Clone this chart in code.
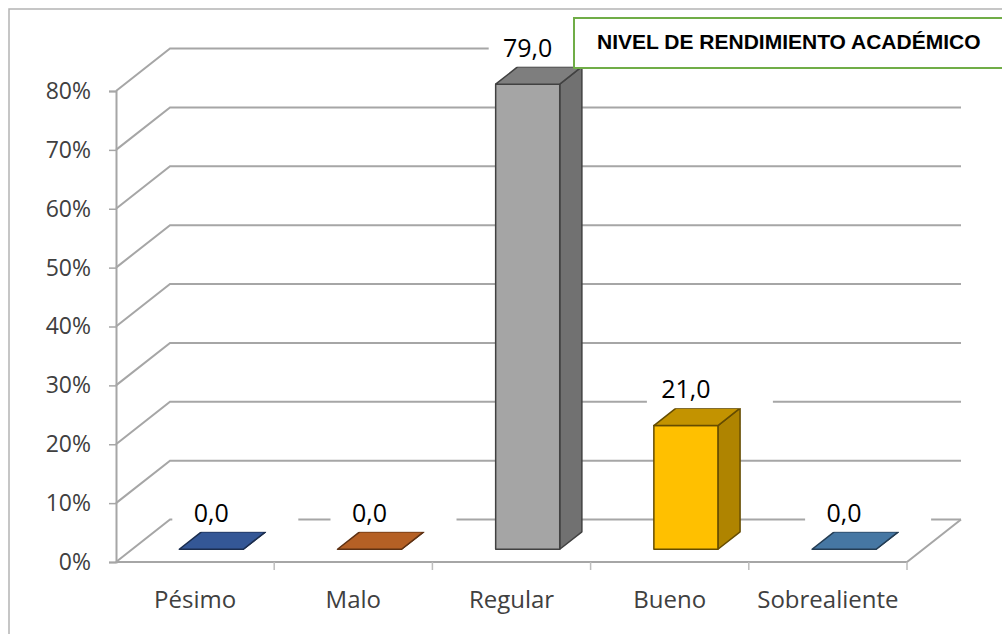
<!DOCTYPE html>
<html>
<head>
<meta charset="utf-8">
<script src="https://cdn.jsdelivr.net/npm/d3@7"></script>
<style>
  body { margin: 0; background: #fff; }
  .axis text { font-family: "Open Sans", sans-serif; fill: #404040; }
</style>
</head>
<body>
<div class="canvas"></div>
<script>
const width = 1002;
const height = 634;

// Data
const categories = ["Pésimo", "Malo", "Regular", "Bueno", "Sobrealiente"];
const values = [0, 0, 0.79, 0.21, 0];
const colors = ["#4472C4", "#ED7D31", "#A5A5A5", "#FFC000", "#5B9BD5"];
const yTicks = [0, 0.1, 0.2, 0.3, 0.4, 0.5, 0.6, 0.7, 0.8];
const title = "NIVEL DE RENDIMIENTO ACADÉMICO";

// 3D geometry: floor depth vector, bars sit between depth d0 and d1
const left = 116;
const right = 907;
const base = 562;
const DX = 54;
const DY = -42.5;
const d0 = 0.3;
const d1 = 0.71;

const locale = d3.formatLocale({ decimal: ",", thousands: ".", grouping: [3], currency: ["", ""] });
const fmtLabel = v => locale.format(".1f")(v * 100);

// Scales
const xScale = d3
  .scaleBand()
  .domain(categories)
  .range([left, right])
  .paddingInner(0.595)
  .paddingOuter(0.2975);

const yScale = d3
  .scaleLinear()
  .domain([0, 0.8])
  .range([base, 91]);

const svg = d3
  .select(".canvas")
  .append("svg")
  .attr("width", width)
  .attr("height", height);

// Outer chart border (left & top visible)
svg.append("path")
  .attr("d", `M9,${height + 5} L9,9 L${width + 5},9`)
  .attr("fill", "none")
  .attr("stroke", "#b4b4b4")
  .attr("stroke-width", 1.5);

// Gridlines: front edge -> back wall
const grid = svg.append("g").attr("class", "grid");
grid.selectAll("path")
  .data(yTicks)
  .enter()
  .append("path")
  .attr("d", d => {
    const y = yScale(d);
    return `M${left},${y} L${left + DX},${y + DY} L${right + DX},${y + DY}`;
  })
  .attr("fill", "none")
  .attr("stroke", "#a6a6a6")
  .attr("stroke-width", 2);

// Floor front & right edge
svg.append("path")
  .attr("d", `M${left},${base} L${right},${base} L${right + DX},${base + DY}`)
  .attr("fill", "none")
  .attr("stroke", "#a6a6a6")
  .attr("stroke-width", 2);

// Category boundary ticks
svg.append("g")
  .selectAll("line")
  .data(d3.range(1, categories.length + 1))
  .enter()
  .append("line")
  .attr("x1", i => left + xScale.step() * i)
  .attr("x2", i => left + xScale.step() * i)
  .attr("y1", base)
  .attr("y2", base + 8)
  .attr("stroke", "#bdbdbd")
  .attr("stroke-width", 1.5);

// Y axis
const yAxis = d3
  .axisLeft(yScale)
  .tickValues(yTicks)
  .tickFormat(d3.format(".0%"))
  .tickSize(7)
  .tickPadding(18);

const gy = svg.append("g")
  .attr("class", "axis")
  .attr("transform", `translate(${left},0)`)
  .call(yAxis);
gy.select(".domain").attr("stroke", "#a6a6a6").attr("stroke-width", 2);
gy.selectAll(".tick line").attr("stroke", "#a6a6a6").attr("stroke-width", 1.5);
gy.selectAll(".tick text").attr("font-size", 23);

// X axis labels
const xAxis = d3
  .axisBottom(xScale)
  .tickSize(0)
  .tickPadding(29);

const gx = svg.append("g")
  .attr("class", "axis")
  .attr("transform", `translate(0,${base})`)
  .call(xAxis);
gx.select(".domain").remove();
gx.selectAll(".tick text").attr("font-size", 24);

// Bars
const barData = categories.map((c, i) => {
  const x = xScale(c);
  const w = xScale.bandwidth();
  const fx = x + DX * d0;
  const fy = DY * d0;
  const sx = DX * (d1 - d0);
  const sy = DY * (d1 - d0);
  const yTop = yScale(values[i]) + fy;
  const yBot = base + fy;
  return { c, v: values[i], color: colors[i], fx, w, sx, sy, yTop, yBot };
});

const bars = svg.append("g")
  .selectAll("g")
  .data(barData)
  .enter()
  .append("g")
  .attr("stroke", d => d3.rgb(d.color).darker(2.6))
  .attr("stroke-width", 1.5)
  .attr("stroke-linejoin", "round");

// side
bars.append("path")
  .attr("d", d => `M${d.fx + d.w},${d.yBot} L${d.fx + d.w + d.sx},${d.yBot + d.sy} L${d.fx + d.w + d.sx},${d.yTop + d.sy} L${d.fx + d.w},${d.yTop} Z`)
  .attr("fill", d => d3.rgb(d.color).darker(1.05));

// front
bars.append("rect")
  .attr("x", d => d.fx)
  .attr("y", d => d.yTop)
  .attr("width", d => d.w)
  .attr("height", d => d.yBot - d.yTop)
  .attr("fill", d => d.color);

// top
bars.append("path")
  .attr("d", d => `M${d.fx},${d.yTop} L${d.fx + d.sx},${d.yTop + d.sy} L${d.fx + d.w + d.sx},${d.yTop + d.sy} L${d.fx + d.w},${d.yTop} Z`)
  .attr("fill", d => d3.rgb(d.color).darker(0.75));

// Data labels with white background
const labels = svg.append("g")
  .selectAll("g")
  .data(barData)
  .enter()
  .append("g")
  .attr("transform", d => `translate(${d.fx + d.w / 2},${d.yTop + d.sy - 10})`);

labels.append("rect")
  .attr("x", -39)
  .attr("y", -30)
  .attr("width", 126)
  .attr("height", 40)
  .attr("fill", "#fff");

labels.append("text")
  .attr("text-anchor", "middle")
  .attr("font-family", "'Open Sans', sans-serif")
  .attr("font-size", 25)
  .attr("fill", "#000")
  .text(d => fmtLabel(d.v));

// Title box
svg.append("rect")
  .attr("x", 574)
  .attr("y", 18)
  .attr("width", 440)
  .attr("height", 50)
  .attr("fill", "#fff")
  .attr("stroke", "#70AD47")
  .attr("stroke-width", 2);

svg.append("text")
  .attr("x", 597)
  .attr("y", 49)
  .attr("font-family", "'Liberation Sans', Arial, sans-serif")
  .attr("font-weight", "bold")
  .attr("font-size", 21)
  .attr("fill", "#000")
  .text(title);
</script>
</body>
</html>
